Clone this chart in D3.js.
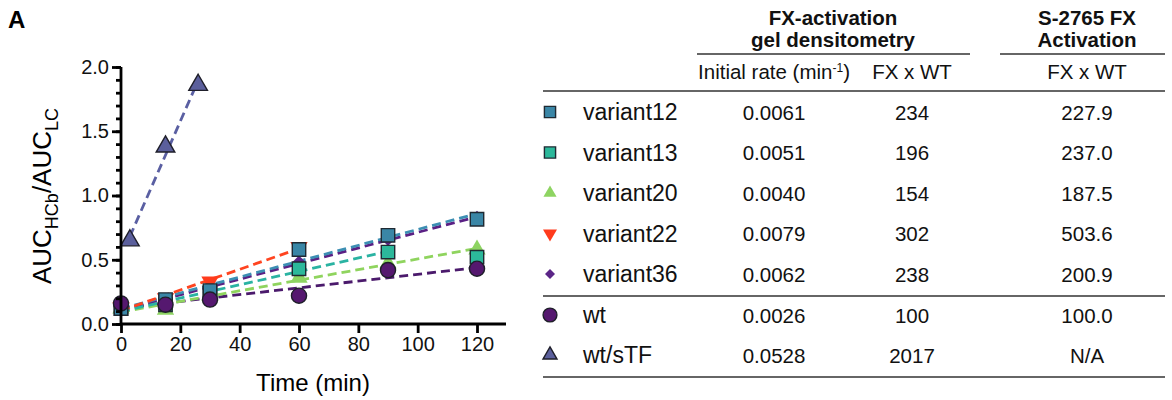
<!DOCTYPE html>
<html>
<head>
<meta charset="utf-8">
<script src="https://cdn.jsdelivr.net/npm/d3@7"></script>
<style>
  body { margin: 0; background: #fff; }
  svg { font-family: "Liberation Sans", Arial, sans-serif; }
</style>
</head>
<body>
<svg id="chart" width="1172" height="400"></svg>
<script>
// Series data
var seriesNames = ["variant12", "variant13", "variant20", "variant22", "variant36", "wt", "wt/sTF"];
var times = [0, 15, 30, 60, 90, 120];
var variant12 = [0.12, 0.19, 0.26, 0.58, 0.69, 0.815];
var variant13 = [0.12, 0.15, 0.24, 0.43, 0.56, 0.52];
var variant20 = [0.12, 0.11, 0.22, 0.36, 0.47, 0.58];
var variant22 = [0.13, 0.20, 0.33, 0.60];
var variant36 = [0.13, 0.17, 0.28, 0.48, 0.66, 0.83];
var wt = [0.16, 0.15, 0.19, 0.22, 0.42, 0.43];
var sTFTimes = [3, 15, 26];
var wtSTF = [0.65, 1.38, 1.86];
// last time point used for the linear fit
var fitEnd = [120, 90, 120, 60, 120, 120, 26];

// Table values
var initialRate = ["0.0061", "0.0051", "0.0040", "0.0079", "0.0062", "0.0026", "0.0528"];
var fxWtGel = ["234", "196", "154", "302", "238", "100", "2017"];
var fxWtS2765 = ["227.9", "237.0", "187.5", "503.6", "200.9", "100.0", "N/A"];

var xTicks = [0, 20, 40, 60, 80, 100, 120];
var yTicks = [0, 0.5, 1.0, 1.5, 2.0];

// Styles
var fills = ["#3a86a6", "#2cb89b", "#8ed462", "#ff3b1c", "#5b2587", "#55186f", "#5b5f9c"];
var lineCols = ["#3d8fb3", "#2ab3a2", "#8fd45e", "#ff4420", "#5a2084", "#4b1a6c", "#5a5fa2"];
var strokes = ["#1f2a33", "#1f2a33", "none", "none", "none", "#1f1f2a", "#1f1f2a"];
var shapes = [d3.symbolSquare, d3.symbolSquare, d3.symbolTriangle, d3.symbolTriangle, d3.symbolSquare, d3.symbolCircle, d3.symbolTriangle];
var rotations = [0, 0, 0, 180, 45, 0, 0];
var plotSizes = [180, 180, 130, 130, 90, 180, 150];
var legSizes = [125, 125, 75, 85, 50, 150, 85];

var svg = d3.select("#chart");

var seriesTimes = function(i) { return i === 6 ? sTFTimes : times; };
var seriesVals = [variant12, variant13, variant20, variant22, variant36, wt, wtSTF];

var x = d3.scaleLinear().domain([0, 120]).range([121, 477]);
var y = d3.scaleLinear().domain([0, 2]).range([324, 67]);

// Panel letter
svg.append("text").attr("x", 8).attr("y", 28)
  .style("font-size", "24px").style("font-weight", "bold").text("A");

// Least squares fit for each series
var fit = function(ts, vs, tEnd) {
  var pts = ts.map(function(t, i) { return [t, vs[i]]; })
    .filter(function(p) { return p[0] <= tEnd; });
  var mt = d3.mean(pts, function(p) { return p[0]; });
  var mv = d3.mean(pts, function(p) { return p[1]; });
  var sxy = d3.sum(pts, function(p) { return (p[0] - mt) * (p[1] - mv); });
  var sxx = d3.sum(pts, function(p) { return (p[0] - mt) * (p[0] - mt); });
  var b = sxy / sxx, a = mv - b * mt;
  var t0 = pts[0][0], t1 = pts[pts.length - 1][0];
  return [[t0, a + b * t0], [t1, a + b * t1]];
};

var plot = svg.append("g");
var drawOrder = [5, 2, 4, 1, 0, 3, 6];
drawOrder.forEach(function(i) {
  var f = fit(seriesTimes(i), seriesVals[i], fitEnd[i]);
  plot.append("line")
    .attr("x1", x(f[0][0])).attr("y1", y(f[0][1]))
    .attr("x2", x(f[1][0])).attr("y2", y(f[1][1]))
    .attr("stroke", lineCols[i]).attr("stroke-width", 2.8)
    .attr("stroke-dasharray", "9,5");
});

var markerOrder = [2, 4, 1, 3, 0, 5, 6];
markerOrder.forEach(function(i) {
  var ts = seriesTimes(i);
  plot.selectAll(null)
    .data(seriesVals[i])
    .enter()
    .append("path")
    .attr("d", d3.symbol().type(shapes[i]).size(plotSizes[i]))
    .attr("transform", function(d, j) {
      return "translate(" + x(ts[j]) + "," + y(d) + ") rotate(" + rotations[i] + ")";
    })
    .attr("fill", fills[i])
    .attr("stroke", strokes[i])
    .attr("stroke-width", 1.4);
});

// Axes
var xAxis = svg.append("g").attr("transform", "translate(0,324)")
  .call(d3.axisBottom(x).tickValues(xTicks).tickSize(9).tickPadding(4).tickFormat(d3.format("d")));
xAxis.select(".domain").attr("d", "M121,0H506");

var yMinor = d3.range(0, 2.001, 0.1);
svg.append("g").attr("transform", "translate(121,0)")
  .call(d3.axisLeft(y).tickValues(yMinor).tickSize(5).tickFormat(""))
  .select(".domain").remove();
var yAxis = svg.append("g").attr("transform", "translate(121,0)")
  .call(d3.axisLeft(y).tickValues(yTicks).tickSize(9).tickPadding(3).tickFormat(d3.format(".1f")));
yAxis.select(".domain").attr("d", "M0,67V324");

svg.selectAll(".tick line, .domain").attr("stroke", "#000").attr("stroke-width", 2.8);
svg.selectAll(".tick text").style("font-size", "20px").attr("fill", "#111")
  .style("font-family", "'Liberation Sans', Arial, sans-serif");

// Axis titles
svg.append("text").attr("x", 313).attr("y", 391).attr("text-anchor", "middle")
  .style("font-size", "24px").text("Time (min)");

var yl = svg.append("text").attr("transform", "translate(51,196) rotate(-90)")
  .attr("text-anchor", "middle").style("font-size", "26px");
yl.append("tspan").text("AUC");
yl.append("tspan").attr("dy", 7).style("font-size", "18px").text("HCb");
yl.append("tspan").attr("dy", -7).text("/AUC");
yl.append("tspan").attr("dy", 7).style("font-size", "18px").text("LC");

// Table
var tbl = svg.append("g").style("font-size", "20.5px").attr("fill", "#111");
var rowY = [112, 152.5, 193, 233.5, 274, 315, 355];
var colMarker = 550, colName = 583, colRate = 774, colGel = 912, colS = 1087;

var head = [["FX-activation", 833, 25], ["gel densitometry", 833, 47], ["S-2765 FX", 1087, 25], ["Activation", 1087, 47]];
tbl.selectAll(".hd").data(head).enter().append("text")
  .attr("x", function(d) { return d[1]; }).attr("y", function(d) { return d[2]; })
  .attr("text-anchor", "middle").style("font-weight", "bold").style("font-size", "20.5px")
  .text(function(d) { return d[0]; });

var hline = function(x1, x2, yy) {
  tbl.append("line").attr("x1", x1).attr("x2", x2).attr("y1", yy).attr("y2", yy)
    .attr("stroke", "#333").attr("stroke-width", 1.4);
};
hline(697, 970, 54);
hline(1000, 1165, 54);
hline(543, 1165, 91);
hline(543, 1165, 296);
hline(543, 1165, 377);

var sub = tbl.append("text").attr("x", colRate).attr("y", 79).attr("text-anchor", "middle");
sub.append("tspan").text("Initial rate (min");
sub.append("tspan").attr("dy", -7).style("font-size", "12px").text("-1");
sub.append("tspan").attr("dy", 7).text(")");
tbl.append("text").attr("x", colGel).attr("y", 79).attr("text-anchor", "middle").text("FX x WT");
tbl.append("text").attr("x", colS).attr("y", 79).attr("text-anchor", "middle").text("FX x WT");

var rows = tbl.selectAll(".row").data(seriesNames).enter().append("g")
  .attr("transform", function(d, i) { return "translate(0," + rowY[i] + ")"; });
rows.append("path")
  .attr("d", function(d, i) { return d3.symbol().type(shapes[i]).size(legSizes[i])(); })
  .attr("transform", function(d, i) { return "translate(" + colMarker + ",0) rotate(" + rotations[i] + ")"; })
  .attr("fill", function(d, i) { return fills[i]; })
  .attr("stroke", function(d, i) { return strokes[i]; })
  .attr("stroke-width", 1.4);
rows.append("text").attr("x", colName).attr("y", 8).style("font-size", "23px")
  .text(function(d) { return d; });
rows.append("text").attr("x", colRate).attr("y", 7.5).attr("text-anchor", "middle")
  .text(function(d, i) { return initialRate[i]; });
rows.append("text").attr("x", colGel).attr("y", 7.5).attr("text-anchor", "middle")
  .text(function(d, i) { return fxWtGel[i]; });
rows.append("text").attr("x", colS).attr("y", 7.5).attr("text-anchor", "middle")
  .text(function(d, i) { return fxWtS2765[i]; });
</script>
</body>
</html>
